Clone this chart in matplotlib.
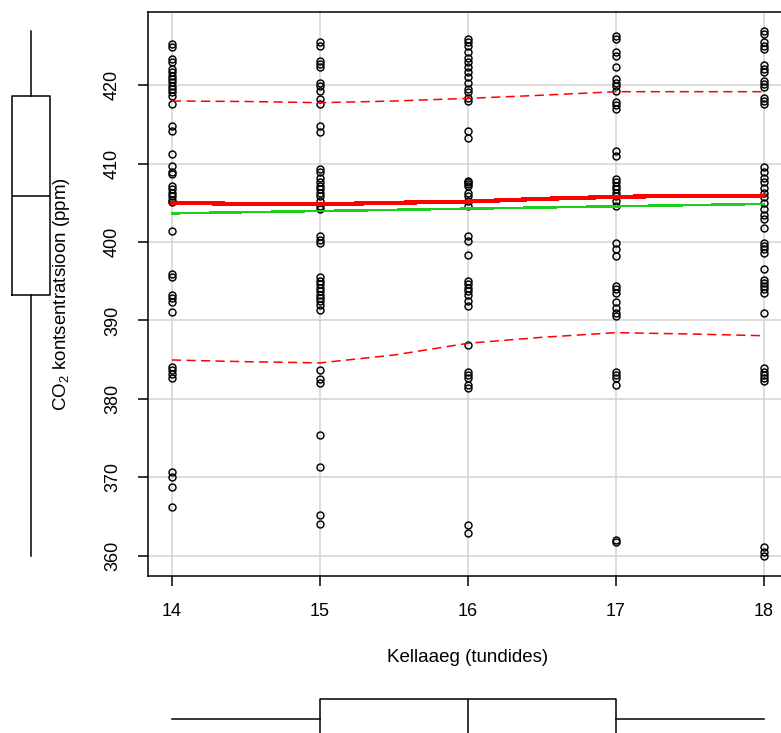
import numpy as np
import matplotlib
matplotlib.use("Agg")
import matplotlib.pyplot as plt

plt.rcParams['font.family'] = ['Liberation Sans', 'DejaVu Sans']
plt.rcParams['mathtext.default'] = 'regular'

# CO2 measurements (ppm) for each hour
hours = [14, 15, 16, 17, 18]
co2_14 = [425.2, 424.85, 423.3, 422.9, 422.0, 421.7, 421.1, 420.8, 420.4, 419.9,
          419.5, 419.1, 418.6, 417.6, 414.8, 414.1, 411.2, 409.7, 408.9, 408.6,
          407.1, 406.7, 406.3, 405.8, 405.4, 405.1, 401.4, 395.9, 395.6, 393.3,
          392.9, 392.4, 391.1, 384.1, 383.7, 383.2, 382.7, 370.7, 370.0, 368.8,
          366.3]
co2_15 = [425.45, 425.0, 423.1, 422.7, 422.3, 420.3, 419.9, 419.3, 418.2, 417.6,
          414.8, 414.0, 409.3, 408.9, 408.2, 407.6, 407.1, 406.7, 406.3, 405.9,
          405.2, 404.6, 404.2, 400.8, 400.3, 399.9, 395.5, 395.0, 394.6, 394.2,
          393.7, 393.3, 392.9, 392.5, 392.0, 391.4, 383.7, 382.5, 382.0, 375.4,
          371.3, 365.2, 364.1]
co2_16 = [425.9, 425.45, 425.0, 424.2, 423.5, 422.9, 422.3, 421.6, 421.0, 420.3,
          419.5, 419.1, 418.4, 418.0, 414.2, 413.3, 407.8, 407.6, 407.4, 407.1,
          406.3, 405.9, 405.2, 404.6, 400.8, 400.1, 398.4, 395.0, 394.6, 394.2,
          393.7, 393.3, 392.5, 391.8, 386.9, 383.5, 383.1, 382.7, 381.8, 381.4,
          364.0, 362.9]
co2_17 = [426.3, 425.9, 424.2, 423.75, 422.3, 420.8, 420.3, 419.9, 419.3, 417.8,
          417.4, 416.9, 411.6, 411.0, 408.0, 407.6, 407.1, 406.7, 406.3, 405.9,
          405.2, 404.6, 399.9, 399.1, 398.2, 394.4, 394.0, 393.5, 392.3, 391.6,
          391.0, 390.6, 383.5, 383.1, 382.7, 381.8, 362.0, 361.8]
co2_18 = [426.9, 426.5, 425.45, 425.0, 424.6, 422.5, 422.0, 421.6, 420.5, 420.1,
          419.7, 418.4, 418.0, 417.6, 409.5, 408.9, 408.2, 407.6, 406.9, 406.3,
          405.7, 405.0, 404.2, 403.5, 402.9, 401.8, 399.9, 399.5, 399.1, 398.6,
          396.5, 395.2, 394.8, 394.4, 394.0, 393.5, 391.0, 384.0, 383.5, 383.1,
          382.7, 382.3, 361.2, 360.5, 360.0]

# smoother, spread and linear fit
smooth_x = [14, 14.5, 15, 15.5, 16, 16.5, 17, 17.5, 18]
smooth_mid = [405.0, 404.85, 404.8, 405.0, 405.15, 405.5, 405.75, 405.9, 405.9]
smooth_upper = [417.96, 417.9, 417.75, 417.96, 418.3, 418.7, 419.15, 419.15, 419.15]
smooth_lower = [384.97, 384.75, 384.6, 385.6, 387.1, 387.86, 388.45, 388.28, 388.06]
fit_x = [14, 18]
fit_y = [403.65, 404.85]

groups = [co2_14, co2_15, co2_16, co2_17, co2_18]
x = np.concatenate([[h] * len(g) for h, g in zip(hours, groups)])
y = np.concatenate(groups)

W, H = 781, 733
fig = plt.figure(figsize=(W / 100, H / 100), dpi=100)

xlim = (13.84, 18.16)
ylim = (357.45, 429.34)

# main scatter panel (pixel box: left 148, right 788, top 12, bottom 576)
ax = fig.add_axes([148.3 / W, (H - 576) / H, (787.7 - 148.3) / W, (576 - 11.7) / H])
ax.set_xlim(*xlim)
ax.set_ylim(*ylim)
ax.set_xticks(hours)
ax.set_yticks(np.arange(360, 421, 10))
ax.grid(True, color='#d3d3d3', lw=1.1)
ax.set_axisbelow(True)

ax.plot(x, y, 'o', mfc='none', mec='black', ms=5.0, mew=1.05, zorder=3)
ax.plot(fit_x, fit_y, color='#1fcf1f', lw=1.1, zorder=4, antialiased=False)
ax.plot(smooth_x, smooth_mid, color='red', lw=2.3, zorder=5, antialiased=False)
ax.plot(smooth_x, smooth_upper, color='red', lw=1.1, ls=(0, (6, 3.5)), zorder=5)
ax.plot(smooth_x, smooth_lower, color='red', lw=1.1, ls=(0, (6, 3.5)), zorder=5)

for s in ax.spines.values():
    s.set_linewidth(1.1)
ax.tick_params(direction='out', length=7.2, width=1.1, pad=12.5, labelsize=13)
ax.tick_params(axis='y', labelrotation=90)
for lab in ax.get_yticklabels():
    lab.set_va('center')

ax.set_xlabel('Kellaaeg (tundides)', fontsize=13.5)
ax.xaxis.label.set_va('center')
ax.xaxis.set_label_coords(0.5, -(657 - 576) / (576 - 11.7))
ax.set_ylabel('CO$_2$ kontsentratsioon (ppm)', fontsize=13.5)
ax.yaxis.label.set_va('center')
ax.yaxis.set_label_coords(-(148.3 - 62) / (787.7 - 148.3), 0.5)

box_style = dict(patch_artist=False, showcaps=False, showfliers=False, whis=1.5,
                 boxprops=dict(color='black', lw=1.1),
                 whiskerprops=dict(color='black', lw=1.1, ls='-'),
                 medianprops=dict(color='black', lw=1.1))

# marginal boxplot of CO2 on the left
axl = fig.add_axes([0, (H - 576) / H, 60 / W, (576 - 11.7) / H])
axl.set_ylim(*ylim)
axl.set_xlim(0, 60)
axl.boxplot(y, positions=[31], widths=38, **box_style)
axl.axis('off')

# marginal boxplot of hour at the bottom
axb = fig.add_axes([148.3 / W, (H - 758) / H, (787.7 - 148.3) / W, 78 / H])
axb.set_xlim(*xlim)
axb.set_ylim(0, 78)
axb.boxplot(x, positions=[39], widths=39.4, orientation='horizontal', **box_style)
axb.axis('off')

fig.savefig('out.png', dpi=100)
